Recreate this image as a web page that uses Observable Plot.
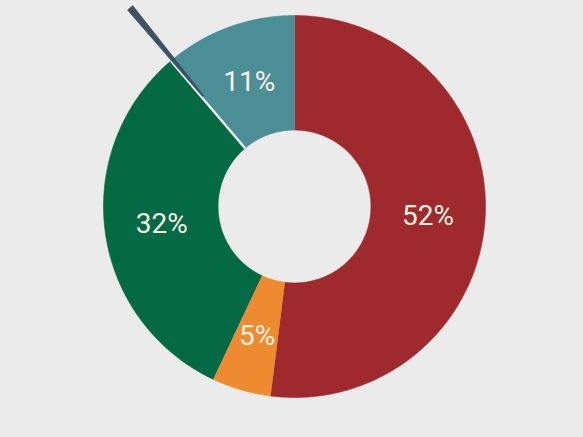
<!DOCTYPE html>
<html>
<head>
<meta charset="utf-8">
<script src="https://cdn.jsdelivr.net/npm/d3@7"></script>
<script src="https://cdn.jsdelivr.net/npm/@observablehq/plot@0.6"></script>
<style>
  html, body { margin: 0; padding: 0; background: #ebebeb; }
  #chart { width: 583px; height: 437px; overflow: hidden; }
</style>
</head>
<body>
<div id="chart"></div>
<script>
// ---- data ----
const categories = ["A", "B", "C", "D"];
const values = [52, 5, 32, 11];
const labels = ["52%", "5%", "32%", "11%"];
const colors = ["#9f2a2e", "#ee8b30", "#036a45", "#4b8e95"];

// ---- geometry (unit radius) ----
const R_OUT = 1, R_IN = 0.40, R_LABEL = 0.70;
const pie = d3.pie().sort(null).startAngle(0).endAngle(2 * Math.PI);
const arcs = pie(values);
const pt = (r, a) => ({ x: r * Math.sin(a), y: r * Math.cos(a) });

const slicePts = [];
arcs.forEach((a, i) => {
  const n = Math.max(8, Math.ceil((a.endAngle - a.startAngle) * 80));
  for (let k = 0; k <= n; k++) {
    const t = a.startAngle + (a.endAngle - a.startAngle) * k / n;
    slicePts.push({ ...pt(R_OUT, t), key: categories[i], color: colors[i] });
  }
  for (let k = n; k >= 0; k--) {
    const t = a.startAngle + (a.endAngle - a.startAngle) * k / n;
    slicePts.push({ ...pt(R_IN, t), key: categories[i], color: colors[i] });
  }
});

const labelPts = arcs.map((a, i) => ({
  ...pt(R_LABEL, (a.startAngle + a.endAngle) / 2), text: labels[i]
}));

// separator / pointer at boundary between 3rd and 4th slice
const bAngle = arcs[3].startAngle;
const deg = Math.PI / 180;
const sep = [{ a: pt(R_IN, bAngle - 0.7 * deg), b: pt(R_OUT, bAngle - 0.7 * deg) }];
const needle = [
  { ...pt(0.75, bAngle - 0.3 * deg), key: "n" },
  { ...pt(1.35, bAngle - 0.75 * deg), key: "n" },
  { ...pt(1.35, bAngle + 0.75 * deg), key: "n" },
  { ...pt(0.75, bAngle + 0.3 * deg), key: "n" }
];

const cx = 294, cy = 206, R = 191, W = 583, H = 437;

const chart = Plot.plot({
  width: W, height: H,
  margin: 0,
  style: { background: "#ebebeb", overflow: "hidden" },
  x: { domain: [-cx / R, (W - cx) / R], axis: null },
  y: { domain: [-(H - cy) / R, cy / R], axis: null },
  color: { type: "identity" },
  marks: [
    Plot.line(slicePts, { x: "x", y: "y", z: "key", fill: "color", stroke: "color", strokeWidth: 0.6, curve: "linear" }),
    Plot.link(sep, { x1: d => d.a.x, y1: d => d.a.y, x2: d => d.b.x, y2: d => d.b.y, stroke: "#eeeeee", strokeWidth: 2.5 }),
    Plot.line(needle, { x: "x", y: "y", z: "key", fill: "#3e5161", stroke: "#3e5161", strokeWidth: 0.8 }),
    Plot.text(labelPts, { x: "x", y: "y", text: "text", fill: "#f7f1e4", fontSize: 28,
      fontFamily: "Roboto, sans-serif", fontWeight: 400, dy: 1 })
  ]
});
document.getElementById("chart").appendChild(chart);
</script>
</body>
</html>
